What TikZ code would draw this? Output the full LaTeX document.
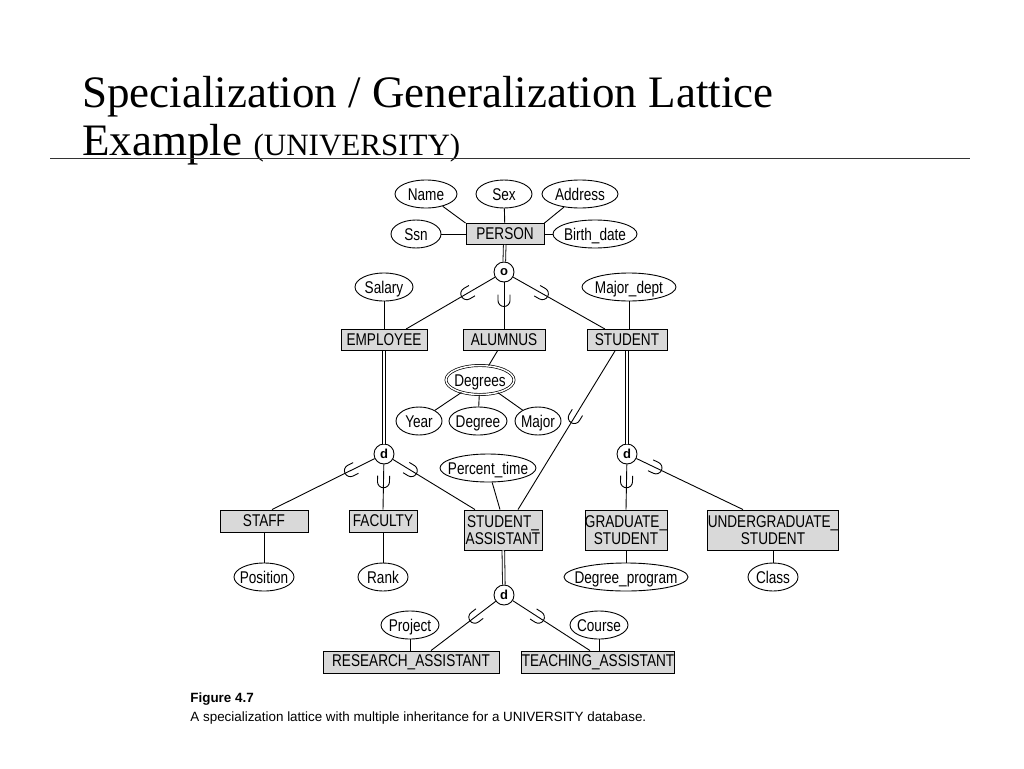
\documentclass[tikz,border=0pt]{standalone}
\usetikzlibrary{shapes.geometric,calc}
\usepackage{fontspec}
\setmainfont{Liberation Serif}
\newfontfamily\diag[FakeStretch=0.8]{Liberation Sans}
\newfontfamily\capfont{Liberation Sans}
\newcommand\subsetmark[3]{\draw let \p1=($(#2)-(#1)$), \n1={atan2(\y1,\x1)} in ($(#1)!#3!(#2)$) ++(\n1+90:6pt) ++(\n1+180:6pt) -- ++(\n1:6pt) arc[start angle=\n1+90, end angle=\n1-90, radius=6pt] -- ++(\n1+180:6pt);}
\begin{document}
\begin{tikzpicture}[x=1pt,y=-1pt,line width=0.9pt,
  ent/.style={draw,fill=black!15,font=\diag\fontsize{17}{17.5}\selectfont,inner sep=0pt,minimum height=21pt,align=center},
  att/.style={draw,ellipse,font=\diag\fontsize{17}{17}\selectfont,inner xsep=-14pt,inner ysep=0pt,minimum height=28pt,text height=16pt,text depth=3pt},
  circ/.style={draw,circle,fill=white,font=\capfont\bfseries\fontsize{13}{14}\selectfont,inner sep=0pt,minimum size=20pt},
  dbl/.style={double,double distance=1.8pt,line width=0.8pt}
]
\useasboundingbox (0,0) rectangle (1024,768);
\node[anchor=base west,font=\fontsize{45}{50}\selectfont,inner sep=0pt] (t1) at (82,107) {Specialization / Generalization Lattice};
\node[anchor=base west,font=\fontsize{45}{50}\selectfont,inner sep=0pt] (t2) at (82,155) {Example {\fontsize{31}{34}\selectfont (UNIVERSITY)}};
\coordinate (l1) at (50,158); \coordinate (l2) at (970,158);
\draw[black!80,line width=1pt] (l1) -- (l2);

\node[ent,minimum width=78pt] (person) at (505,234) {PERSON};
\node[att,minimum width=62pt] (name) at (426,194) {Name};
\node[att,minimum width=56pt] (sex) at (504,194) {Sex};
\node[att,minimum width=76pt] (addr) at (580,194) {Address};
\node[att,minimum width=50pt] (ssn) at (416,234) {Ssn};
\node[att,minimum width=84pt] (bd) at (595,234) {Birth\_date};
\draw (name) -- (person.north west); \draw (sex) -- (person); \draw (addr) -- (person.north east);
\draw (ssn) -- (person); \draw (bd) -- (person);

\node[circ] (o) at (504,272) {o};
\draw[dbl] (person) -- (o);
\node[att,minimum width=58pt] (sal) at (384,287) {Salary};
\node[att,minimum width=94pt] (mdept) at (629,287) {Major\_dept};
\node[ent,minimum width=86pt] (emp) at (384,340) {EMPLOYEE};
\node[ent,minimum width=82pt] (alum) at (504,340) {ALUMNUS};
\node[ent,minimum width=80pt] (stud) at (627,340) {STUDENT};
\coordinate (empT) at ([xshift=22pt]emp.north);
\coordinate (studT) at ([xshift=-22pt]stud.north);
\draw (sal) -- (emp); \draw (mdept) -- (stud.north -| mdept);
\draw (o) -- (empT); \subsetmark{o}{empT}{.38}
\draw (o) -- (alum.north); \subsetmark{o}{alum.north}{.5}
\draw (o) -- (studT); \subsetmark{o}{studT}{.38}

\node[att,double,double distance=1.5pt,line width=0.7pt,minimum width=68pt,minimum height=29pt] (degs) at (480,380) {Degrees};
\node[att,minimum width=46pt] (year) at (419,421) {Year};
\node[att,minimum width=58pt] (degree) at (478,421) {Degree};
\node[att,minimum width=46pt] (major) at (538,421) {Major};
\draw (alum) -- (degs); \draw (degs) -- (year); \draw (degs) -- (degree); \draw (degs) -- (major);

\node[circ] (d1) at (384,454) {d};
\node[circ] (d2) at (627,454) {d};
\draw[dbl] (emp) -- (d1); \draw[dbl] (stud) -- (d2);
\node[att,minimum width=96pt] (pt) at (488,468) {Percent\_time};

\node[ent,minimum width=88pt,minimum height=22pt] (staff) at (264,521) {STAFF};
\node[ent,minimum width=68pt,minimum height=22pt] (fac) at (383,521) {FACULTY};
\node[ent,minimum width=78pt,minimum height=40pt] (sa) at (503,530) {STUDENT\_\\ASSISTANT};
\node[ent,minimum width=80pt,minimum height=40pt] (grad) at (626,530) {GRADUATE\_\\STUDENT};
\node[ent,minimum width=120pt,minimum height=40pt] (ug) at (773,530) {UNDERGRADUATE\_\\STUDENT};
\coordinate (staffT) at ([xshift=8pt]staff.north);
\coordinate (saL) at ([xshift=-28pt]sa.north);
\coordinate (saR) at ([xshift=15pt]sa.north);
\coordinate (studB) at ([xshift=-12pt]stud.south);
\coordinate (ugT) at ([xshift=-30pt]ug.north);

\draw (d1) -- (staffT); \subsetmark{d1}{staffT}{.3}
\draw (d1) -- (fac.north); \subsetmark{d1}{fac.north}{.5}
\draw (d1) -- (saL); \subsetmark{d1}{saL}{.3}
\draw (pt) -- ([xshift=-3pt]sa.north);
\draw (studB) -- (saR); \subsetmark{studB}{saR}{.42}
\draw (d2) -- (grad.north); \subsetmark{d2}{grad.north}{.5}
\draw (d2) -- (ugT); \subsetmark{d2}{ugT}{.25}

\node[att,minimum width=60pt] (pos) at (264,577) {Position};
\node[att,minimum width=50pt] (rank) at (383,577) {Rank};
\node[att,minimum width=124pt] (dp) at (626,577) {Degree\_program};
\node[att,minimum width=50pt] (cls) at (773,577) {Class};
\draw (pos) -- (staff); \draw (rank) -- (fac); \draw (dp) -- (grad); \draw (cls) -- (ug);

\node[circ] (d3) at (504,595) {d};
\draw[dbl] (sa) -- (d3);
\node[att,minimum width=58pt] (proj) at (410,625) {Project};
\node[att,minimum width=58pt] (course) at (599,625) {Course};
\node[ent,minimum width=176pt,minimum height=22pt] (ra) at (411,662) {RESEARCH\_ASSISTANT};
\node[ent,minimum width=146pt,minimum height=22pt] (ta) at (598,662) {TEACHING\_ASSISTANT};
\coordinate (raT) at ([xshift=20pt]ra.north);
\coordinate (taT) at ([xshift=-8pt]ta.north);
\draw (proj) -- (proj |- ra.north); \draw (course) -- (course |- ta.north);
\draw (d3) -- (raT); \subsetmark{d3}{raT}{.4}
\draw (d3) -- (taT); \subsetmark{d3}{taT}{.4}

\node[anchor=base west,font=\capfont\bfseries\fontsize{13.4}{15}\selectfont,inner sep=0pt] (fig) at (190,702) {Figure 4.7};
\node[anchor=base west,font=\capfont\fontsize{13.4}{15}\selectfont,inner sep=0pt] (cap) at (190,721) {A specialization lattice with multiple inheritance for a UNIVERSITY database.};
\end{tikzpicture}
\end{document}
